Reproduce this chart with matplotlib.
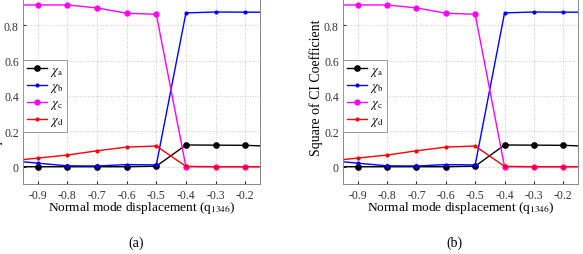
import matplotlib.pyplot as plt
import numpy as np

plt.rcParams['font.family'] = ['Liberation Serif', 'DejaVu Serif']
plt.rcParams['mathtext.fontset'] = 'stix'

# normal mode displacement q1346
q = [-1.0, -0.9, -0.8, -0.7, -0.6, -0.5, -0.4, -0.3, -0.2, -0.1]

# square of CI coefficients
chi_a = [0.0, 0.0, 0.0, 0.0, 0.0, 0.003, 0.123, 0.122, 0.121, 0.115]
chi_b = [0.036, 0.02, 0.005, 0.004, 0.012, 0.01, 0.87, 0.875, 0.874, 0.874]
chi_c = [0.915, 0.915, 0.915, 0.898, 0.868, 0.862, 0.0, 0.0, 0.0, 0.0]
chi_d = [0.031, 0.049, 0.066, 0.09, 0.111, 0.117, 0.002, 0.0, 0.0, 0.0]

xticks = [-0.9, -0.8, -0.7, -0.6, -0.5, -0.4, -0.3, -0.2]
yticks = [0, 0.2, 0.4, 0.6, 0.8]
panels = ['(a)', '(b)']

W, H = 583, 255
fig = plt.figure(figsize=(W / 100, H / 100), dpi=100)

### axes boxes in pixels: left, right
boxes = [(23, 260), (343, 578)]
ax_bottom = 185.4
ax_top = -9.1

for (l, r), cap in zip(boxes, panels):
    ax = fig.add_axes([l / W, 1 - ax_bottom / H, (r - l) / W, (ax_bottom - ax_top) / H])
    ax.plot(q, chi_a, color='black', lw=1, marker='o', ms=3.8, label=r'$\chi_\mathrm{a}$')
    ax.plot(q, chi_b, color='blue', lw=1, marker='.', ms=4, label=r'$\chi_\mathrm{b}$')
    ax.plot(q, chi_c, color='magenta', lw=1, marker='o', ms=3.5, label=r'$\chi_\mathrm{c}$')
    ax.plot(q, chi_d, color='red', lw=1, marker='.', ms=4, label=r'$\chi_\mathrm{d}$')
    ax.set_xlim(-0.95, -0.15)
    ax.set_ylim(-0.1, 1.0)
    ax.set_xticks(xticks)
    ax.set_xticklabels(['%g' % v for v in xticks])
    ax.set_yticks(yticks)
    ax.set_yticklabels(['%g' % v for v in yticks])
    ax.grid(True, ls=':', color='#c8c8c8', lw=0.7)
    ax.tick_params(direction='in', length=2, labelsize=8.5, colors='#333333', pad=3)
    for s in ax.spines.values():
        s.set_color('#888888')
        s.set_linewidth(0.7)
    ax.set_xlabel(r'Normal mode displacement (q$_{\mathrm{1346}}$)', fontsize=9.6, labelpad=-1)
    ax.set_ylabel('Square of CI Coefficient', fontsize=10, labelpad=1)
    leg = ax.legend(loc='upper left', bbox_to_anchor=(0.0, 0.64), fontsize=9,
                    fancybox=False, edgecolor='#999999', framealpha=1, borderaxespad=0,
                    handlelength=1.6, borderpad=0.3, labelspacing=0.22, handletextpad=0.25)
    leg.get_frame().set_linewidth(0.7)
    fig.text((l + r) / 2 / W - 0.01, 1 - 243 / H, cap, ha='center', va='center', fontsize=10)

fig.savefig('out.png', dpi=100)
